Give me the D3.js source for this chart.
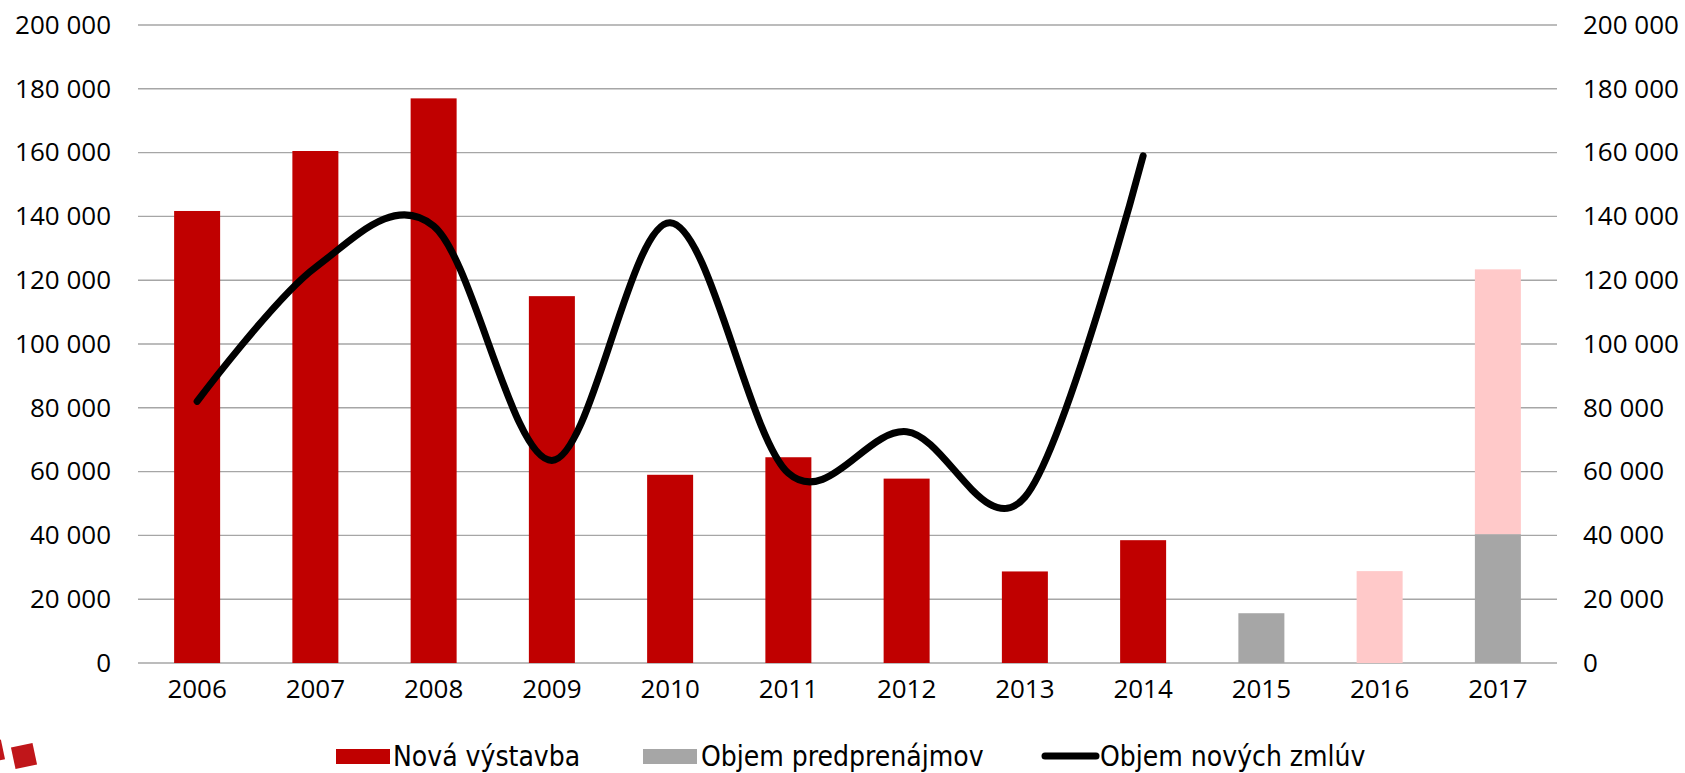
<!DOCTYPE html>
<html>
<head>
<meta charset="utf-8">
<script src="https://cdn.jsdelivr.net/npm/d3@7"></script>
<style>
  body { margin: 0; background: #fff; }
  text { font-family: "Open Sans", sans-serif; fill: #000; }
  .legend text { font-family: "DejaVu Sans Condensed", "DejaVu Sans", sans-serif; font-stretch: condensed; }
</style>
</head>
<body>
<div class="visHolder"></div>
<script>

let years = ['2006', '2007', '2008', '2009', '2010', '2011', '2012', '2013', '2014', '2015', '2016', '2017'];
let novaVystavba = [141700, 160500, 177000, 115000, 59000, 64500, 57800, 28700, 38500, 0, 0, 0];
let predprenajom = [0, 0, 0, 0, 0, 0, 0, 0, 0, 15600, 0, 40400];
let planovana = [0, 0, 0, 0, 0, 0, 0, 0, 0, 0, 28800, 83000];
let zmluvyYears = ['2006', '2007', '2008', '2009', '2010', '2011', '2012', '2013', '2014'];
let zmluvy = [82000, 124000, 137000, 63500, 138000, 59500, 72500, 52000, 159000];
let yTicks = [0, 20000, 40000, 60000, 80000, 100000, 120000, 140000, 160000, 180000, 200000];

let width = 1685;
let height = 773;
let plotLeft = 138;
let plotRight = 1557;
let plotTop = 25;
let plotBottom = 663;

let colors = { nova: '#c00000', pred: '#a6a6a6', plan: '#ffc9c9' };

let svg = d3.select('.visHolder').append('svg')
  .attr('width', width)
  .attr('height', height);

let xScale, yScale;

function generateScales() {
  xScale = d3.scaleBand()
    .domain(years)
    .range([plotLeft, plotRight])
    .paddingInner(0.611)
    .paddingOuter(0.3055);

  yScale = d3.scaleLinear()
    .domain([0, 200000])
    .range([plotBottom, plotTop]);
}

function fmt(v) {
  return d3.format(',')(v).replace(/,/g, ' ');
}

function drawGrid() {
  svg.append('g')
    .selectAll('line')
    .data(yTicks)
    .join('line')
    .attr('x1', plotLeft)
    .attr('x2', plotRight)
    .attr('y1', d => yScale(d))
    .attr('y2', d => yScale(d))
    .attr('stroke', '#a6a6a6')
    .attr('stroke-width', 1.4);
}

function drawBars() {
  let rows = years.map((y, i) => ({ year: y, nova: novaVystavba[i], pred: predprenajom[i], plan: planovana[i] }));
  let stacked = d3.stack().keys(['nova', 'pred', 'plan'])(rows);

  svg.append('g')
    .selectAll('g')
    .data(stacked)
    .join('g')
    .attr('fill', d => colors[d.key])
    .selectAll('rect')
    .data(d => d.filter(p => p[1] > p[0]))
    .join('rect')
    .attr('x', d => xScale(d.data.year))
    .attr('width', xScale.bandwidth())
    .attr('y', d => yScale(d[1]))
    .attr('height', d => yScale(d[0]) - yScale(d[1]));
}

function drawLine() {
  let line = d3.line()
    .x((d, i) => xScale(zmluvyYears[i]) + xScale.bandwidth() / 2)
    .y(d => yScale(d))
    .curve(d3.curveCardinal.tension(0));

  svg.append('path')
    .datum(zmluvy)
    .attr('d', line)
    .attr('fill', 'none')
    .attr('stroke', '#000')
    .attr('stroke-width', 7)
    .attr('stroke-linecap', 'round');
}

function generateAxes() {
  let leftAxis = d3.axisLeft(yScale).tickValues(yTicks).tickFormat(fmt).tickSize(0).tickPadding(0);
  svg.append('g')
    .attr('transform', 'translate(111,0)')
    .call(leftAxis)
    .call(g => g.select('.domain').remove());

  let rightAxis = d3.axisRight(yScale).tickValues(yTicks).tickFormat(fmt).tickSize(0).tickPadding(0);
  svg.append('g')
    .attr('transform', 'translate(1583,0)')
    .call(rightAxis)
    .call(g => g.select('.domain').remove());

  let xAxis = d3.axisBottom(xScale).tickSize(0).tickPadding(0);
  svg.append('g')
    .attr('transform', 'translate(0,680)')
    .call(xAxis)
    .call(g => g.select('.domain').remove());

  svg.selectAll('.tick text')
    .attr('font-family', '"Open Sans", sans-serif')
    .attr('font-size', 26)
    .attr('fill', '#000');
}

function drawLegend() {
  let lg = svg.append('g').attr('class', 'legend');
  lg.append('rect').attr('x', 336).attr('y', 749).attr('width', 54).attr('height', 15).attr('fill', colors.nova);
  lg.append('text').attr('x', 393).attr('y', 766).attr('font-size', 28).text('Nová výstavba');
  lg.append('rect').attr('x', 643).attr('y', 749).attr('width', 54).attr('height', 15).attr('fill', colors.pred);
  lg.append('text').attr('x', 701).attr('y', 766).attr('font-size', 28).text('Objem predprenájmov');
  lg.append('line').attr('x1', 1045).attr('x2', 1096).attr('y1', 756).attr('y2', 756)
    .attr('stroke', '#000').attr('stroke-width', 7).attr('stroke-linecap', 'round');
  lg.append('text').attr('x', 1100).attr('y', 766).attr('font-size', 28).text('Objem nových zmlúv');
}

function drawLogo() {
  let logo = svg.append('g');
  logo.append('rect').attr('x', 13).attr('y', 745).attr('width', 22).attr('height', 22)
    .attr('fill', '#c0161a').attr('transform', 'rotate(-12,24,756)');
  logo.append('rect').attr('x', -4).attr('y', 740).attr('width', 7).attr('height', 20)
    .attr('fill', '#c0161a').attr('transform', 'rotate(-12,0,750)');
}

generateScales();
drawGrid();
drawBars();
drawLine();
generateAxes();
drawLegend();
drawLogo();
</script>
</body>
</html>
